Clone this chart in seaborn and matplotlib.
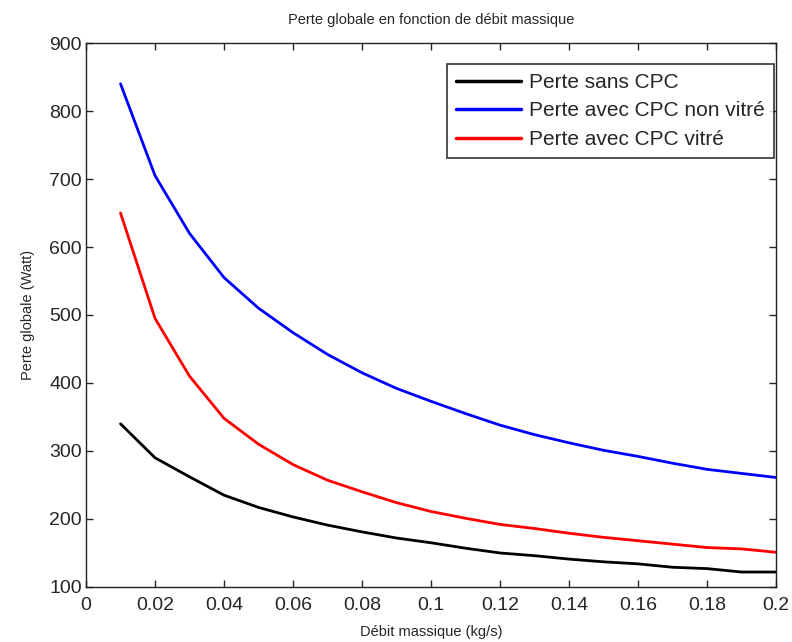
import matplotlib.pyplot as plt
import numpy as np
import pandas as pd
import seaborn as sns

# Data
debit = [0.01, 0.02, 0.03, 0.04, 0.05, 0.06, 0.07, 0.08, 0.09, 0.10,
         0.11, 0.12, 0.13, 0.14, 0.15, 0.16, 0.17, 0.18, 0.19, 0.20]
perte_sans = [340, 290, 262, 235, 217, 203, 191, 181, 172, 165,
              157, 150, 146, 141, 137, 134, 129, 127, 122, 122]
perte_non_vitre = [840, 705, 620, 555, 510, 474, 442, 415, 392, 373,
                   355, 338, 324, 312, 301, 292, 282, 273, 267, 261]
perte_vitre = [650, 495, 410, 348, 310, 280, 257, 240, 224, 211,
               201, 192, 186, 179, 173, 168, 163, 158, 156, 151]

labels = ['Perte sans CPC', 'Perte avec CPC non vitré', 'Perte avec CPC vitré']
colors = ['black', 'blue', 'red']

df = pd.concat([
    pd.DataFrame({'debit': debit, 'perte': perte_sans, 'serie': labels[0]}),
    pd.DataFrame({'debit': debit, 'perte': perte_non_vitre, 'serie': labels[1]}),
    pd.DataFrame({'debit': debit, 'perte': perte_vitre, 'serie': labels[2]}),
])

sns.set_style('ticks')
plt.rcParams['font.family'] = ['Liberation Sans', 'DejaVu Sans']

fig = plt.figure(figsize=(7.92, 6.42), dpi=100)
ax = fig.add_axes([0.1086, 0.0857, 0.8714, 0.8473])

sns.lineplot(data=df, x='debit', y='perte', hue='serie', palette=colors,
             linewidth=2, ax=ax, legend=True)

ax.set_xlim(0, 0.2)
ax.set_ylim(100, 900)
ax.set_xticks(np.arange(0, 0.201, 0.02))
ax.set_xticklabels(['0', '0.02', '0.04', '0.06', '0.08', '0.1',
                    '0.12', '0.14', '0.16', '0.18', '0.2'])
ax.set_yticks(np.arange(100, 901, 100))
ax.tick_params(direction='in', top=True, right=True, length=5,
               labelsize=14, width=1)
ax.tick_params(axis='x', pad=7)
ax.tick_params(axis='y', pad=3)
for s in ax.spines.values():
    s.set_linewidth(1)
    s.set_color('#222222')

ax.set_xlabel('Débit massique (kg/s)', fontsize=10.5, labelpad=8)
ax.set_ylabel('Perte globale (Watt)', fontsize=10.5, labelpad=10)
ax.set_title('Perte globale en fonction de débit massique', fontsize=10.5, pad=14)

leg = ax.legend(loc='upper right', bbox_to_anchor=(0.997, 0.962), fontsize=15,
                frameon=True, fancybox=False, edgecolor='black',
                handlelength=3.1, handletextpad=0.4, borderpad=0.45,
                labelspacing=0.45, borderaxespad=0)
leg.get_frame().set_linewidth(1.2)
for line in leg.get_lines():
    line.set_linewidth(2.5)

fig.savefig('out.png', dpi=100)
